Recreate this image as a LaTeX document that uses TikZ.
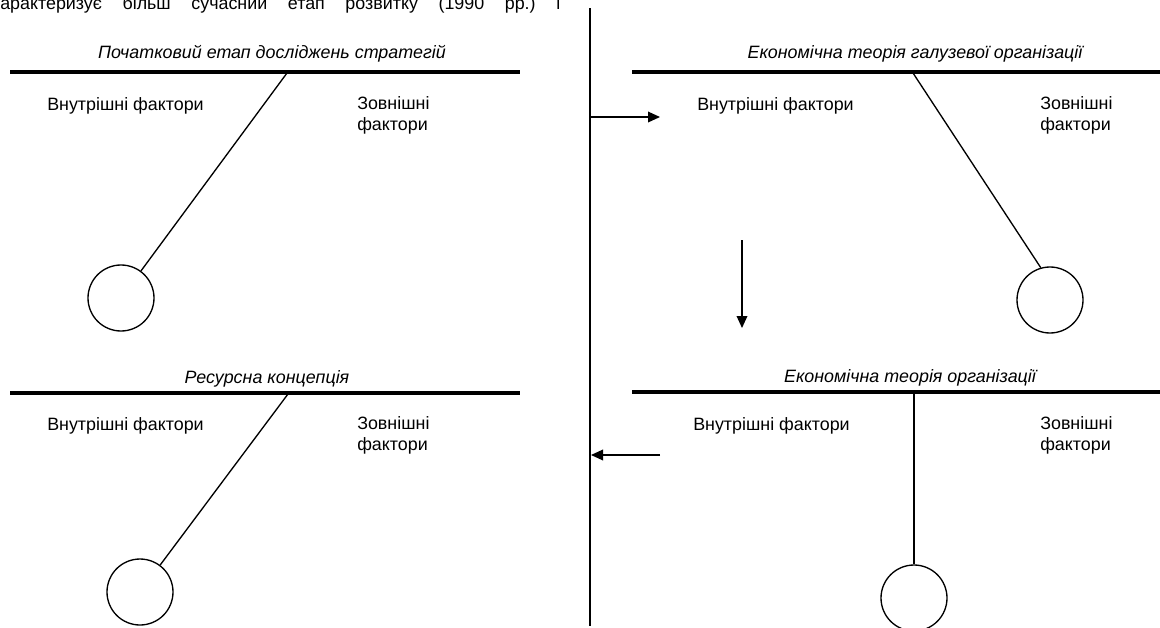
\documentclass[tikz,border=0pt]{standalone}
\usepackage{fontspec}
\setmainfont{Liberation Sans}
\usetikzlibrary{arrows.meta}
\frenchspacing
\begin{document}
\begin{tikzpicture}[x=0.75pt,y=-0.75pt,
  lbl/.style={font=\fontsize{13.4}{15.2}\selectfont, inner sep=0pt, anchor=base west, align=left},
  ttl/.style={font=\fontsize{13.4}{15.2}\selectfont\itshape, inner sep=0pt, anchor=base},
  bar/.style={line width=3pt},
  thin/.style={line width=1pt},
  ball/.style={circle, draw, line width=1pt, minimum size=49.5pt, inner sep=0pt},
  arr/.style={line width=1pt, -{Triangle[length=9pt,width=8pt]}}]
\useasboundingbox (0,0) rectangle (1160,628);
\clip (0,0) rectangle (1160,628);
\fill[white] (0,0) rectangle (1160,628);
% clipped top text
\node[lbl] (top) at (0,9) {\makebox[420pt][s]{арактеризує більш сучасний етап розвитку (1990\ рр.)\ і}};
% central vertical line
\coordinate (vt) at (590,8);
\coordinate (vb) at (590,626);
\draw[line width=1.2pt] (vt) -- (vb);
% Quadrant 1
\node[ttl] (t1) at (272,58) {Початковий етап досліджень стратегій};
\coordinate (b1l) at (10,72);
\coordinate (b1r) at (520,72);
\draw[bar] (b1l) -- (b1r);
\coordinate (j1) at (287,73);
\node[ball] (c1) at (121,298) {};
\draw[thin] (j1) -- (c1);
\node[lbl] (in1) at (47,110) {Внутрішні фактори};
\node[lbl] (ex1) at (357,130) {Зовнішні\\фактори};
% Quadrant 2
\node[ttl] (t2) at (915,58) {Економічна теорія галузевої організації};
\coordinate (b2l) at (632,72);
\coordinate (b2r) at (1160,72);
\draw[bar] (b2l) -- (b2r);
\coordinate (j2) at (913,73);
\node[ball] (c2) at (1050,300) {};
\draw[thin] (j2) -- (c2.106);
\node[lbl] (in2) at (697,110) {Внутрішні фактори};
\node[lbl] (ex2) at (1040,130) {Зовнішні\\фактори};
\coordinate (a1s) at (590,117);
\coordinate (a1e) at (660,117);
\draw[arr] (a1s) -- (a1e);
\coordinate (a2s) at (742,240);
\coordinate (a2e) at (742,328);
\draw[arr] (a2s) -- (a2e);
% Quadrant 3
\node[ttl] (t3) at (267,383) {Ресурсна концепція};
\coordinate (b3l) at (10,393);
\coordinate (b3r) at (520,393);
\draw[bar] (b3l) -- (b3r);
\coordinate (j3) at (288,394);
\node[ball] (c3) at (140,592) {};
\draw[thin] (j3) -- (c3);
\node[lbl] (in3) at (47,430) {Внутрішні фактори};
\node[lbl] (ex3) at (357,450) {Зовнішні\\фактори};
% Quadrant 4
\node[ttl] (t4) at (910,382) {Економічна теорія організації};
\coordinate (b4l) at (632,392);
\coordinate (b4r) at (1160,392);
\draw[bar] (b4l) -- (b4r);
\coordinate (j4) at (914,393);
\node[ball] (c4) at (914,598) {};
\draw[thin] (j4) -- (c4);
\node[lbl] (in4) at (693,430) {Внутрішні фактори};
\node[lbl] (ex4) at (1040,450) {Зовнішні\\фактори};
\coordinate (a3s) at (660,455);
\coordinate (a3e) at (591,455);
\draw[arr] (a3s) -- (a3e);
\end{tikzpicture}
\end{document}
